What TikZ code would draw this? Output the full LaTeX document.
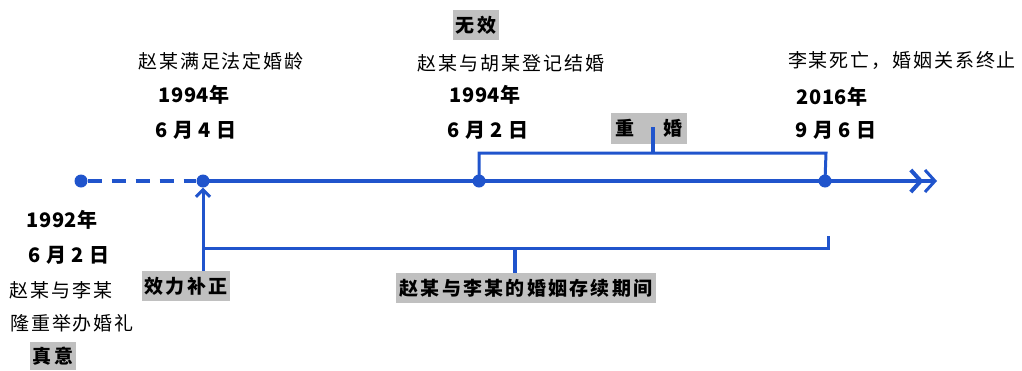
\documentclass[tikz,border=0pt]{standalone}
\usepackage{fontspec}
\newfontfamily\cjk[LetterSpace=10]{Noto Sans CJK SC}
\newfontfamily\cjkb[LetterSpace=4]{Noto Sans CJK SC}
\newfontfamily\cjkw[LetterSpace=12]{Noto Sans CJK SC}
\usetikzlibrary{arrows.meta}
\definecolor{mainblue}{RGB}{32,84,204}
\definecolor{boxgray}{RGB}{192,192,192}
\begin{document}
\begin{tikzpicture}[x=1pt,y=-1pt,
  lbl/.style={inner sep=0pt,font=\cjk\fontsize{19}{19}\selectfont},
  datelbl/.style={inner sep=0pt,font=\cjkb\bfseries\fontsize{20}{20}\selectfont},
  graybox/.style={fill=boxgray,inner xsep=3pt,inner ysep=0pt,minimum height=30pt,font=\cjkw\bfseries\fontsize{19}{19}\selectfont},
  dot/.style={circle,fill=mainblue,inner sep=0pt,minimum size=13pt},
  mainln/.style={draw=mainblue,line width=4pt},
  brk/.style={draw=mainblue,line width=3pt}]
\useasboundingbox (0,0) rectangle (1022,370);
% dots
\node[dot] (d1) at (81,181) {};
\node[dot] (d2) at (203,181) {};
\node[dot] (d3) at (479,181) {};
\node[dot] (d4) at (825,181) {};
\coordinate (tip) at (937,181);
% main line
\draw[mainln,dash pattern=on 14pt off 10pt] (d1) -- (d2);
\draw[mainln,-{Straight Barb[length=10pt,width=22pt,line width=4pt]Straight Barb[length=10pt,width=22pt,line width=3pt]}] (d2.center) -- (tip);
% top labels
\node[lbl] (t1) at (221,61) {赵某满足法定婚龄};
\node[datelbl] (y1) at (194,95) {1994年};
\node[datelbl] (m1) at (196,130) {6 月 4 日};
\node[graybox] (wx) at (476,25) {无效};
\node[lbl] (t2) at (511,63) {赵某与胡某登记结婚};
\node[datelbl] (y2) at (485,95) {1994年};
\node[datelbl] (m2) at (488,130) {6 月 2 日};
\node[lbl] (t3) at (902,61) {李某死亡，婚姻关系终止};
\node[datelbl] (y3) at (832,97) {2016年};
\node[datelbl] (m3) at (836,130) {9 月 6 日};
% bottom-left labels
\node[datelbl] (y0) at (62,220) {1992年};
\node[datelbl] (m0) at (69,255) {6 月 2 日};
\node[lbl] (t0a) at (61,290) {赵某与李某};
\node[lbl] (t0b) at (72,323) {隆重举办婚礼};
\node[graybox,minimum height=28pt] (zy) at (53,356) {真意};
% boxes
\node[graybox] (xl) at (186,286) {效力补正};
\node[graybox] (cx) at (526,288) {赵某与李某的婚姻存续期间};
\node[graybox,minimum width=76pt,minimum height=31pt,inner sep=0pt] (ch) at (649,128) {重\hspace{30pt}婚};
% upper bracket
\coordinate (ub2) at (826,153);
\coordinate (ubm) at (653,153);
\coordinate (ubt) at (653,127);
\draw[brk] (d3.center) |- (ub2) -- (d4.center);
\draw[brk,line width=3.5pt] (ubm) -- (ubt);
% lower bracket
\coordinate (lb0) at (203,271);
\coordinate (lb1) at (203,248);
\coordinate (lb2) at (828,248);
\coordinate (lb3) at (828,236);
\coordinate (lbm) at (515,248);
\coordinate (lbb) at (515,273);
\draw[brk,-{Straight Barb[length=7pt,width=14pt,line width=3pt]}] (lb0) -- (d2.south);
\draw[brk] (lb1) -- (lb2) -- (lb3);
\draw[brk,line width=3.5pt] (lbm) -- (lbb);
\end{tikzpicture}
\end{document}
